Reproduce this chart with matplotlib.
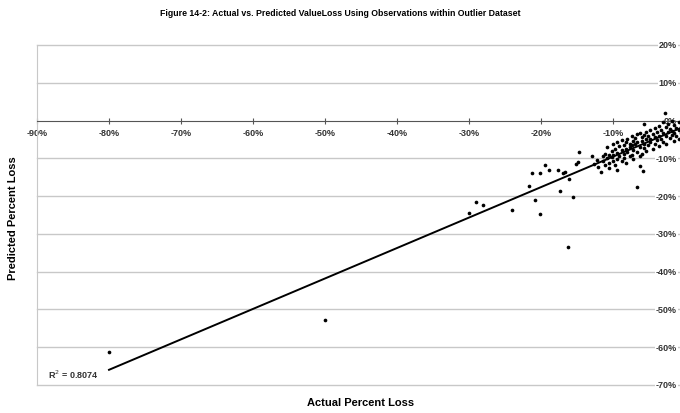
import numpy as np
import matplotlib
matplotlib.use("Agg")
import matplotlib.pyplot as plt

plt.rcParams["font.family"] = ["Liberation Sans Narrow", "Liberation Sans", "DejaVu Sans"]

# Actual vs. predicted value loss (fractions)
actual = [
    -0.800, -0.500, -0.300, -0.290, -0.281, -0.240, -0.217, -0.212, -0.201, -0.208,
    -0.201, -0.194, -0.189, -0.176, -0.174, -0.170, -0.167, -0.161, -0.156, -0.163,
    -0.151, -0.149, -0.147, -0.129, -0.126, -0.122, -0.121, -0.117, -0.067, -0.062,
    -0.058, -0.057, -0.028,
    -0.114, -0.114, -0.111, -0.111, -0.108, -0.108, -0.105, -0.105, -0.105, -0.102,
    -0.102, -0.100, -0.100, -0.100, -0.097, -0.097, -0.094, -0.094, -0.094, -0.094,
    -0.091, -0.091, -0.088, -0.088, -0.088, -0.085, -0.085, -0.085, -0.082, -0.082,
    -0.082, -0.080, -0.080, -0.077, -0.077, -0.077, -0.074, -0.074, -0.074, -0.072,
    -0.072, -0.072, -0.069, -0.069, -0.066, -0.066, -0.066, -0.063, -0.063, -0.063,
    -0.060, -0.060, -0.060, -0.057, -0.057, -0.057, -0.054, -0.054, -0.054, -0.051,
    -0.051, -0.048, -0.048, -0.048, -0.045, -0.045, -0.042, -0.042, -0.042, -0.039,
    -0.039, -0.036, -0.036, -0.036, -0.033, -0.033, -0.030, -0.030, -0.030, -0.027,
    -0.027, -0.027, -0.024, -0.024, -0.021, -0.021, -0.018, -0.018, -0.018, -0.015,
    -0.015, -0.015, -0.012, -0.012, -0.009, -0.009, -0.009, -0.006, -0.006,
]
predicted = [
    -0.613, -0.528, -0.244, -0.215, -0.223, -0.236, -0.172, -0.138, -0.138, -0.210,
    -0.247, -0.117, -0.132, -0.130, -0.186, -0.140, -0.137, -0.154, -0.202, -0.334,
    -0.114, -0.111, -0.082, -0.095, -0.114, -0.104, -0.122, -0.135, -0.175, -0.119,
    -0.133, -0.008, 0.021,
    -0.095, -0.108, -0.088, -0.118, -0.070, -0.100, -0.092, -0.112, -0.125, -0.081,
    -0.097, -0.061, -0.090, -0.106, -0.075, -0.118, -0.056, -0.086, -0.101, -0.130,
    -0.068, -0.094, -0.052, -0.079, -0.108, -0.065, -0.088, -0.099, -0.058, -0.076,
    -0.112, -0.050, -0.084, -0.062, -0.071, -0.095, -0.040, -0.066, -0.090, -0.055,
    -0.078, -0.102, -0.047, -0.062, -0.036, -0.058, -0.083, -0.032, -0.070, -0.094,
    -0.044, -0.055, -0.088, -0.038, -0.062, -0.072, -0.030, -0.050, -0.081, -0.042,
    -0.066, -0.024, -0.048, -0.058, -0.035, -0.075, -0.020, -0.044, -0.062, -0.030,
    -0.052, -0.015, -0.040, -0.068, -0.026, -0.048, -0.005, -0.034, -0.056, -0.018,
    -0.042, -0.062, -0.010, -0.030, -0.022, -0.046, 0.000, -0.028, -0.038, -0.012,
    -0.034, -0.055, -0.020, -0.040, -0.004, -0.026, -0.048, -0.016, -0.032,
]

# linear trendline
trend_slope = 0.806
trend_intercept = -0.015
r_squared = "R$^2$ = 0.8074"

# the 0% x label is cropped off in the reference, so it is left out
x_ticks = [-0.9, -0.8, -0.7, -0.6, -0.5, -0.4, -0.3, -0.2, -0.1]
x_tick_labels = ["-90%", "-80%", "-70%", "-60%", "-50%", "-40%", "-30%", "-20%", "-10%"]
y_ticks = [0.2, 0.1, 0.0, -0.1, -0.2, -0.3, -0.4, -0.5, -0.6, -0.7]
y_tick_labels = ["20%", "10%", "0%", "-10%", "-20%", "-30%", "-40%", "-50%", "-60%", "-70%"]

W, H = 680, 414
fig = plt.figure(figsize=(W / 100, H / 100), dpi=100)
# plot area runs a little past the right edge of the picture (x=0 is cropped)
ax = fig.add_axes([37 / W, 1 - 386 / H, 648 / W, 340 / H])
ax.set_xlim(-0.9, 0.0)
ax.set_ylim(-0.7, 0.2)

for yv in y_ticks:
    if yv != 0:
        ax.axhline(yv, color="#c8c8c8", lw=1.0, zorder=0, clip_on=False)

ax.spines["top"].set_visible(False)
ax.spines["right"].set_visible(False)
ax.spines["bottom"].set_position(("data", 0))
ax.spines["bottom"].set_color("#555555")
ax.spines["left"].set_color("#c8c8c8")

ax.set_xticks(x_ticks)
ax.set_xticklabels(x_tick_labels, fontsize=6.5, fontweight="bold", color="#333333")
ax.tick_params(axis="x", direction="inout", length=4, width=0.8, color="#555555", pad=3)
ax.set_yticks([])

# y tick labels sit just left of the (cropped) vertical axis at x=0
for yv, lab in zip(y_ticks, y_tick_labels):
    ax.text(-0.011, yv, lab, ha="right", va="center", fontsize=6.5, fontweight="bold",
            color="#333333", zorder=1,
            bbox=dict(facecolor="white", edgecolor="none", pad=0.6))

ax.scatter(actual, predicted, s=7, color="black", zorder=3, linewidths=0)

tx = np.array([min(actual), max(actual)])
ax.plot(tx, trend_intercept + trend_slope * tx, color="black", lw=1.4, zorder=4)

ax.text(-0.885, -0.671, r_squared, fontsize=6.5, fontweight="bold", color="#333333",
        ha="left", va="center")

fig.text(0.5, 1 - 14 / H, "Figure 14-2: Actual vs. Predicted ValueLoss Using Observations within Outlier Dataset",
         ha="center", va="center", fontsize=6.3, fontweight="bold", family=["Liberation Sans", "DejaVu Sans"])
fig.text(361 / W, 1 - 403 / H, "Actual Percent Loss", ha="center", va="center",
         fontsize=8, fontweight="bold", family=["Liberation Sans", "DejaVu Sans"])
fig.text(13 / W, 1 - 218 / H, "Predicted Percent Loss", ha="center", va="center",
         rotation=90, fontsize=8, fontweight="bold", family=["Liberation Sans", "DejaVu Sans"])

fig.savefig("out.png", dpi=100)
